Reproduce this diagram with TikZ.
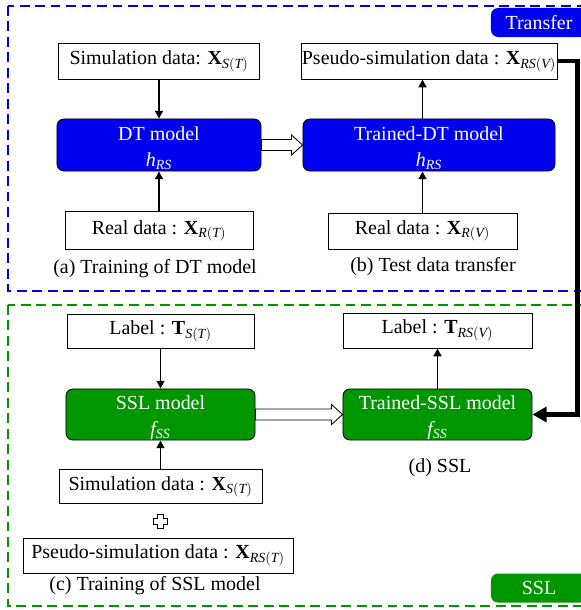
\documentclass[tikz,border=0pt]{standalone}
\usepackage{fontspec}
\setmainfont{Liberation Serif}
\usetikzlibrary{arrows.meta,positioning,calc}
\definecolor{dtblue}{RGB}{0,0,240}
\definecolor{sslgreen}{RGB}{0,150,0}
\newcommand{\xv}[1]{$\mathbf{X}_{\mathit{#1}}$}
\newcommand{\tv}[1]{$\mathbf{T}_{\mathit{#1}}$}
\newcommand{\mdl}[2]{\rule{0pt}{14.5pt}#1\\[2.3pt]$\mathit{#2}$}

\begin{document}
\begin{tikzpicture}[
    x=0.025cm, y=-0.025cm,
    font=\fontsize{14.2}{16.5}\selectfont,
    data/.style={rectangle, draw, line width=0.6pt, fill=white, inner sep=0pt, minimum height=0.9cm},
    model/.style={rectangle, draw, line width=0.6pt, rounded corners=5pt, text=white, align=center, inner sep=0pt,
        minimum height=1.3cm},
    tag/.style={rectangle, rounded corners=5pt, text=white, minimum width=2.4cm, minimum height=0.725cm, inner sep=0pt},
    group/.style={line width=2pt, dash pattern=on 7pt off 4pt},
    arrow/.style={-{Triangle[length=5.5pt,width=5.5pt]}, line width=1.4pt},
    feed/.style={-{Triangle[length=10pt,width=10.5pt]}, line width=3.2pt},
    hollow/.style={draw, line width=0.6pt, fill=white},
]
    \useasboundingbox (0,0) rectangle (580,610);

    % dashed groups
    \draw[group, dtblue] (8,6) rectangle (600,291);
    \draw[group, sslgreen] (8,305) rectangle (600,606);

    % (a) training of DT model
    \node[model, fill=dtblue, minimum width=5.1cm] (dtA) at (159,145) {\mdl{DT model}{h_{RS}}};
    \node[data, minimum width=5.025cm, above=0.975cm of dtA] (simA) {Simulation data: \xv{S(T)}};
    \node[data, minimum width=4.7cm, minimum height=0.95cm, below=1cm of dtA] (realA) {Real data : \xv{R(T)}};
    \node (capA) at (155,269) {(a) Training of DT model};

    % (b) test data transfer
    \node[model, fill=dtblue, minimum width=6.3cm] (dtB) at (429,145) {\mdl{Trained-DT model}{h_{RS}}};
    \node[data, minimum width=6.4cm, above=0.975cm of dtB] (pseudoB) {Pseudo-simulation data : \xv{RS(V)}};
    \node[data, minimum width=4.725cm] (realB) at (422.5,231) {Real data : \xv{R(V)}};
    \node (capB) at (433,267) {(b) Test data transfer};

    % (c) training of SSL model
    \node[model, fill=sslgreen, minimum width=4.725cm, minimum height=1.275cm] (sslC) at (160.5,414.5) {\mdl{SSL model}{f_{SS}}};
    \node[data, minimum width=4.675cm, minimum height=0.85cm, above=1cm of sslC] (labelC) {Label : \tv{S(T)}};
    \node[data, minimum width=5.075cm, minimum height=0.85cm, below=0.725cm of sslC] (simC) {Simulation data : \xv{S(T)}};
    \coordinate[below=0.425cm of simC] (plus);
    \node[data, minimum width=6.75cm, minimum height=0.875cm] (pseudoC) at (158,555.5) {Pseudo-simulation data : \xv{RS(T)}};
    \node (capC) at (155,586) {(c) Training of SSL model};

    % (d) SSL
    \node[model, fill=sslgreen, minimum width=4.725cm, minimum height=1.275cm] (sslD) at (437.5,414.5) {\mdl{Trained-SSL model}{f_{SS}}};
    \node[data, minimum width=4.725cm, minimum height=0.875cm, above=1cm of sslD] (labelD) {Label : \tv{RS(V)}};
    \node (capD) at (440,468) {(d) SSL};

    % tags
    \node[tag, fill=dtblue] (tagT) at (539,22.5) {Transfer};
    \node[tag, fill=sslgreen] (tagS) at (539,588) {SSL};

    % arrows
    \draw[arrow] (simA) -- (dtA);
    \draw[arrow] (realA) -- (dtA);
    \draw[arrow] (realB.north) -- (realB.north |- dtB.south);
    \draw[arrow] (dtB.north -| realB.north) -- (pseudoB.south -| realB.north);
    \draw[arrow] (labelC) -- (sslC);
    \draw[arrow] (simC) -- (sslC);
    \draw[arrow] (sslD) -- (labelD);
    \draw[feed] (pseudoB.east) -- ++(20,0) |- (sslD.east);

    % hollow arrows
    \foreach \a/\b in {dtA/dtB, sslC/sslD}
        \draw[hollow] ($(\a.east)+(0,-5.5)$) -- ($(\b.west)+(-11,-5.5)$) -- ($(\b.west)+(-11,-10)$)
            -- (\b.west) -- ($(\b.west)+(-11,10)$) -- ($(\b.west)+(-11,5.5)$) -- ($(\a.east)+(0,5.5)$) -- cycle;

    % plus sign
    \draw[line width=0.8pt] (plus) ++(-3,-7) -- ++(6,0) -- ++(0,4) -- ++(4,0) -- ++(0,6) -- ++(-4,0)
        -- ++(0,4) -- ++(-6,0) -- ++(0,-4) -- ++(-4,0) -- ++(0,-6) -- ++(4,0) -- cycle;
\end{tikzpicture}
\end{document}
